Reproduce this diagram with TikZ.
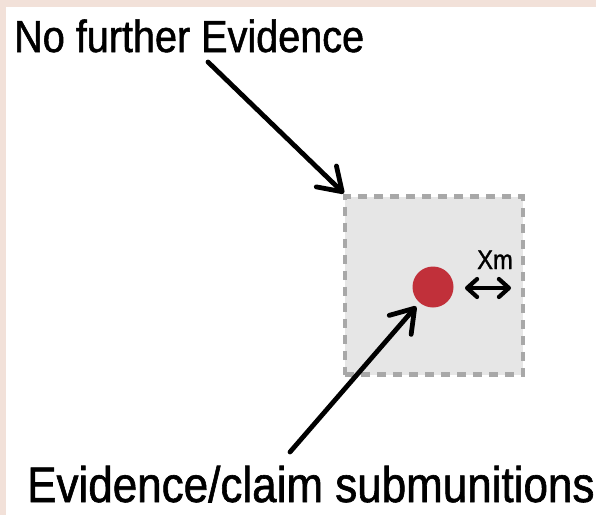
\documentclass[tikz,border=0pt]{standalone}
\usepackage{fontspec}
\usepackage{xcolor}
\usepackage{tikz}
\usetikzlibrary{calc,arrows.meta}
\newfontfamily\condsans[FakeStretch=0.88,FakeBold=1.2]{Liberation Sans}
\definecolor{framebg}{HTML}{F2E1D9}
\definecolor{boxfill}{HTML}{E6E6E6}
\definecolor{boxline}{HTML}{A8A8A8}
\definecolor{dotred}{HTML}{C1303A}
\tikzset{lbl/.style={font=\condsans\fontsize{45}{50}\selectfont,inner sep=0pt,anchor=base west},
  ptr/.style={line width=4.8pt,line cap=round,-{Straight Barb[length=22pt,width=29pt,line cap=round,line join=round]}}}

\begin{document}
\begin{tikzpicture}[x=1pt,y=-1pt]
\useasboundingbox (0,0) rectangle (596,515);
\fill[framebg] (0,0) rectangle (596,515);
\fill[white] (6,7) rectangle (596,515);
\node[draw=boxline,line width=4.2pt,dash pattern=on 9pt off 7pt,fill=boxfill,minimum size=178pt,inner sep=0pt] (zone) at (434,285.5) {};
\node[circle,fill=dotred,minimum size=41pt,inner sep=0pt] (dot) at (433,287) {};
\node[lbl] (nofurther) at (14,52) {No further Evidence};
\node[lbl,font=\condsans\fontsize{50}{56}\selectfont] (claim) at (27,502) {Evidence/claim submunitions};
\coordinate (topstart) at (208,62);
\coordinate (botstart) at (290,452);
\draw[ptr] (topstart) -- ($(zone.north west)+(1,-1)$);
\draw[ptr,shorten >=5pt] (botstart) -- (dot);
% distance marker
\coordinate (xmL) at (465,288);
\coordinate (xmR) at (511,288);
\draw[line width=4.2pt,line cap=round,{Straight Barb[length=10pt,width=18pt,line cap=round,line join=round]}-{Straight Barb[length=10pt,width=18pt,line cap=round,line join=round]}] (xmL) -- (xmR);
\node[font=\condsans\fontsize{27}{30}\selectfont,inner sep=0pt,anchor=base] (xm) at (495,269) {Xm};
\end{tikzpicture}
\end{document}
